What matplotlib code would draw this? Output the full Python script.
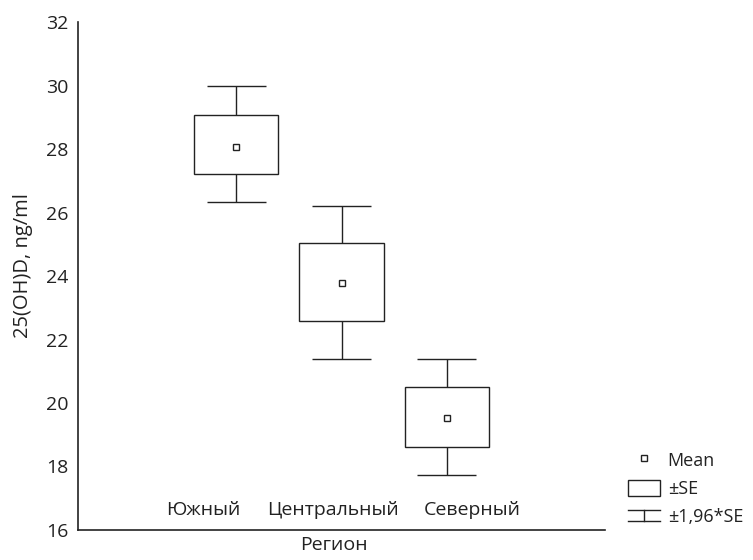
import matplotlib.pyplot as plt
from matplotlib.legend_handler import HandlerBase
from matplotlib.lines import Line2D
from matplotlib.patches import Rectangle

# Values
regions = ['Южный', 'Центральный', 'Северный']
means = [28.05, 23.78, 19.52]
se_low = [27.21, 22.58, 18.62]
se_high = [29.07, 25.05, 20.49]
ci_low = [26.33, 21.39, 17.73]
ci_high = [29.98, 26.21, 21.39]
# the category labels do not sit under the boxes in the original
label_pos = [0.69, 1.92, 3.24]

INK = '#222222'
plt.rcParams['font.family'] = ['Open Sans', 'DejaVu Sans']


# Legend symbol for the whisker: cap, stem, cap
class WhiskerHandler(HandlerBase):
  def create_artists(self, legend, orig, xd, yd, width, height, fontsize, trans):
    cx = width / 2 - xd
    top = height * 0.85 - yd
    bot = height * 0.15 - yd
    lines = [
      Line2D([-xd, width - xd], [top, top]),
      Line2D([-xd, width - xd], [bot, bot]),
      Line2D([cx, cx], [bot, top]),
    ]
    for ln in lines:
      ln.set_color(INK)
      ln.set_linewidth(1.0)
      ln.set_transform(trans)
    return lines


fig = plt.figure(figsize=(7.53, 5.6), dpi=100)
ax = fig.add_axes([0.1036, 0.0536, 0.7, 0.907])

xs = list(range(1, len(regions) + 1))
box_h = [hi - lo for lo, hi in zip(se_low, se_high)]

# +-SE boxes
ax.bar(xs, box_h, bottom=se_low, width=0.8, fill=False,
       edgecolor=INK, linewidth=1.0)
# +-1.96*SE whiskers
ax.vlines(xs, ci_low, se_low, color=INK, linewidth=1.0)
ax.vlines(xs, se_high, ci_high, color=INK, linewidth=1.0)
ax.hlines(ci_low, [x - 0.28 for x in xs], [x + 0.28 for x in xs],
          color=INK, linewidth=1.0)
ax.hlines(ci_high, [x - 0.28 for x in xs], [x + 0.28 for x in xs],
          color=INK, linewidth=1.0)
# means
ax.plot(xs, means, linestyle='none', marker='s', markersize=4.5,
        markerfacecolor='white', markeredgecolor=INK, markeredgewidth=1.0)

ax.set_xlim(-0.5, 4.5)
ax.set_ylim(16, 32)
ax.set_yticks(range(16, 33, 2))
ax.set_xticks(label_pos)
ax.set_xticklabels(regions, fontsize=14)
ax.tick_params(axis='x', length=0, pad=-21, colors=INK)
ax.tick_params(axis='y', length=0, pad=7, labelsize=14, colors=INK)
ax.set_xlabel('Регион', fontsize=14, color=INK)
ax.xaxis.set_label_coords(0.486, -0.012)
ax.set_ylabel('25(OH)D, ng/ml', fontsize=14.5, color=INK)
ax.yaxis.set_label_coords(-0.085, 0.52)

for side in ('top', 'right'):
  ax.spines[side].set_visible(False)
for side in ('left', 'bottom'):
  ax.spines[side].set_color(INK)
  ax.spines[side].set_linewidth(1.2)

# Legend
mean_h = Line2D([], [], linestyle='none', marker='s', markersize=4.5,
                markerfacecolor='white', markeredgecolor=INK,
                markeredgewidth=1.0)
se_h = Rectangle((0, 0), 1, 1, fill=False, edgecolor=INK, linewidth=1.0)
ci_h = Line2D([], [])
fig.legend([mean_h, se_h, ci_h], ['Mean', '±SE', '±1,96*SE'],
           handler_map={ci_h: WhiskerHandler()},
           loc='upper left', bbox_to_anchor=(0.834, 0.194),
           frameon=False, fontsize=13, handlelength=1.75,
           handleheight=1.0, handletextpad=0.45, labelspacing=0.55,
           borderaxespad=0, borderpad=0, labelcolor=INK)

fig.savefig('out.png', dpi=100)
